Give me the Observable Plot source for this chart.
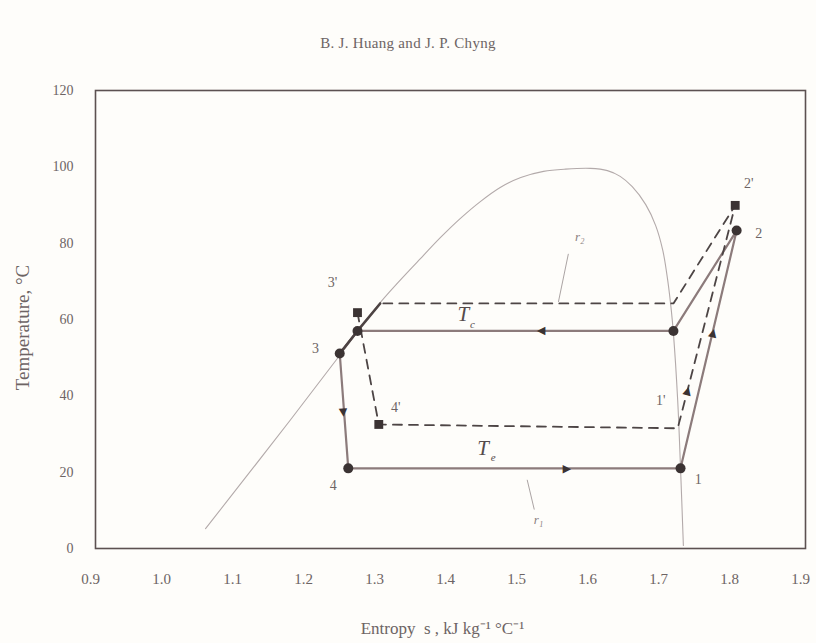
<!DOCTYPE html>
<html>
<head>
<meta charset="utf-8">
<script src="https://cdn.jsdelivr.net/npm/d3@7"></script>
<script src="https://cdn.jsdelivr.net/npm/@observablehq/plot@0.6"></script>
<style>
  html, body { margin: 0; padding: 0; background: #fefdfa; }
  #wrap { position: relative; width: 816px; height: 643px; }
  #title {
    position: absolute; top: 35px; left: 0; width: 816px; text-align: center;
    font-family: "Liberation Serif", serif; font-size: 15px; color: #6d6464;
    letter-spacing: 0.3px;
  }
  svg { display: block; }
</style>
</head>
<body>
<div id="wrap">
  <div id="title">B. J. Huang and J. P. Chyng</div>
</div>
<script>
// Axis ticks
const xTicks = [0.9, 1.0, 1.1, 1.2, 1.3, 1.4, 1.5, 1.6, 1.7, 1.8, 1.9];
const yTicks = [0, 20, 40, 60, 80, 100, 120];

// Saturation dome (entropy kJ/kg°C, temperature °C)
const domeS = [1.055, 1.175, 1.246, 1.301, 1.358, 1.386, 1.414, 1.442, 1.470, 1.499, 1.531, 1.562, 1.597, 1.621, 1.639, 1.656, 1.675, 1.689, 1.699, 1.706, 1.711, 1.714, 1.720, 1.724, 1.728];
const domeT = [5.2, 33.8, 51.1, 64.4, 76.0, 81.5, 86.5, 90.9, 94.6, 97.2, 98.8, 99.4, 99.6, 99.0, 97.5, 94.8, 90.1, 84.6, 78.1, 70.2, 62.4, 56.3, 38.8, 21.0, 0.8];

// Design cycle (solid): 1 -> 2 -> saturated vapour -> saturated liquid -> 3 -> 4 -> 1
const cycleS = [1.724, 1.803, 1.714, 1.269, 1.244, 1.256, 1.724];
const cycleT = [21.0, 83.3, 57.0, 57.0, 51.1, 21.0, 21.0];

// Off-design cycle (dashed): 3' -> 4' -> 1' -> 2' -> condensing line
const offS = [1.269, 1.299, 1.720, 1.801, 1.714, 1.301];
const offT = [61.8, 32.5, 31.5, 89.9, 64.2, 64.2];

// Liquid-side segment along the dome
const liquidS = [1.301, 1.269, 1.244];
const liquidT = [64.2, 57.0, 51.1];

// State points
const circleS = [1.724, 1.803, 1.714, 1.269, 1.244, 1.256];
const circleT = [21.0, 83.3, 57.0, 57.0, 51.1, 21.0];
const squareS = [1.801, 1.269, 1.299];
const squareT = [89.9, 61.8, 32.5];

// State labels
const labelText = ["1", "2", "2'", "3", "3'", "4", "4'", "1'"];
const labelS = [1.749, 1.834, 1.820, 1.210, 1.234, 1.235, 1.323, 1.696];
const labelT = [18.0, 82.5, 95.6, 52.4, 69.7, 16.5, 36.9, 38.8];

// Flow-direction arrowheads: position and the segment they lie on
const arrowS = [1.770, 1.734, 1.249, 1.565, 1.527];
const arrowT = [56.6, 41.4, 35.4, 20.8, 57.0];
const arrowFrom = [[1.724, 21.0], [1.720, 31.5], [1.244, 51.1], [1.256, 21.0], [1.714, 57.0]];
const arrowTo = [[1.803, 83.3], [1.801, 89.9], [1.256, 21.0], [1.724, 21.0], [1.269, 57.0]];

// Temperature annotations
const tempSymbolS = [1.418, 1.446];
const tempSymbolT = [61.4, 26.3];
const tempSubText = ["c", "e"];
const tempSubS = [1.431, 1.460];
const tempSubT = [58.6, 23.8];

// Leader-line labels r1, r2
const leaderText = ["r\u2082", "r\u2081"];
const leaderS = [1.582, 1.524];
const leaderT = [81.6, 7.4];
const leaderFrom = [[1.566, 77.2], [1.508, 18.0]];
const leaderTo = [[1.552, 64.6], [1.518, 10.2]];

const W = 816, H = 643;
const M = {top: 90, right: 11, bottom: 95, left: 95};
const xRange = [M.left, W - M.right];
const yRange = [H - M.bottom, M.top];
const sx = d3.scaleLinear([0.9, 1.9], xRange);
const sy = d3.scaleLinear([0, 120], yRange);

const idx = a => a.map((_, i) => i);
const dome = idx(domeS).map(i => ({s: domeS[i], t: domeT[i]}));
const cycle = idx(cycleS).map(i => ({s: cycleS[i], t: cycleT[i]}));
const off = idx(offS).map(i => ({s: offS[i], t: offT[i]}));
const liquid = idx(liquidS).map(i => ({s: liquidS[i], t: liquidT[i]}));
const circles = idx(circleS).map(i => ({s: circleS[i], t: circleT[i]}));
const squares = idx(squareS).map(i => ({s: squareS[i], t: squareT[i]}));
const labels = idx(labelS).map(i => ({s: labelS[i], t: labelT[i], text: labelText[i]}));
const arrows = idx(arrowS).map(i => {
  const [s0, t0] = arrowFrom[i], [s1, t1] = arrowTo[i];
  const dx = sx(s1) - sx(s0), dy = sy(t1) - sy(t0);
  // glyph points up; rotate clockwise to follow the flow direction
  const angle = Math.atan2(dx, -dy) * 180 / Math.PI;
  return {s: arrowS[i], t: arrowT[i], angle};
});
const temps = idx(tempSymbolS).map(i => ({s: tempSymbolS[i], t: tempSymbolT[i]}));
const subs = idx(tempSubS).map(i => ({s: tempSubS[i], t: tempSubT[i], text: tempSubText[i]}));
const leaders = idx(leaderS).map(i => ({
  s: leaderS[i], t: leaderT[i], text: leaderText[i],
  s1: leaderFrom[i][0], t1: leaderFrom[i][1], s2: leaderTo[i][0], t2: leaderTo[i][1]
}));

const ink = "#3b3333";
const chart = Plot.plot({
  width: W,
  height: H,
  marginTop: M.top,
  marginRight: M.right,
  marginBottom: M.bottom,
  marginLeft: M.left,
  style: {fontFamily: "Liberation Serif, serif", color: "#6d6464", background: "transparent"},
  x: {domain: [0.9, 1.9], range: xRange},
  y: {domain: [0, 120], range: yRange},
  marks: [
    Plot.axisX({ticks: xTicks, tickFormat: d => d.toFixed(1), tickSize: 0, tickPadding: 25, dx: -5, fontSize: 15, label: null}),
    Plot.axisY({ticks: yTicks, tickFormat: d => String(d), tickSize: 0, tickPadding: 22, fontSize: 14, label: null}),
    Plot.frame({stroke: "#5c5151", strokeWidth: 1.6}),
    Plot.line(dome, {x: "s", y: "t", curve: "catmull-rom", stroke: "#b3aaaa", strokeWidth: 1.1}),
    Plot.line(cycle, {x: "s", y: "t", stroke: "#8c7b7b", strokeWidth: 2.2}),
    Plot.line(off, {x: "s", y: "t", stroke: "#4d4545", strokeWidth: 1.8, strokeDasharray: "9 7"}),
    Plot.line(liquid, {x: "s", y: "t", stroke: "#4d4343", strokeWidth: 2.6}),
    Plot.link(leaders, {x1: "s1", y1: "t1", x2: "s2", y2: "t2", stroke: "#a09898", strokeWidth: 0.9}),
    Plot.dot(circles, {x: "s", y: "t", r: 5, fill: ink, stroke: "none"}),
    Plot.dot(squares, {x: "s", y: "t", r: 5, symbol: "square", fill: ink, stroke: "none"}),
    Plot.text(arrows, {x: "s", y: "t", text: () => "\u25B2", rotate: "angle", fill: ink, fontSize: 11, fontFamily: "DejaVu Sans"}),
    Plot.text(labels, {x: "s", y: "t", text: "text", fontSize: 14, fill: "#6d6464"}),
    Plot.text(temps, {x: "s", y: "t", text: () => "T", fontSize: 21, fontStyle: "italic", fill: "#554b4b"}),
    Plot.text(subs, {x: "s", y: "t", text: "text", fontSize: 11, fontStyle: "italic", fill: "#554b4b"}),
    Plot.text(leaders, {x: "s", y: "t", text: "text", fontSize: 13, fontStyle: "italic", fill: "#8a8080"}),
    Plot.text(["Temperature, \u00B0C"], {frameAnchor: "left", dx: -73, dy: 8, rotate: -90, textAnchor: "middle", fontSize: 19, fill: "#6d6464"}),
    Plot.text(["Entropy  s , kJ kg\u207B\u00B9 \u00B0C\u207B\u00B9"], {frameAnchor: "bottom", dx: -8, dy: 85, textAnchor: "middle", fontSize: 17, fill: "#6d6464"})
  ]
});
document.getElementById("wrap").appendChild(chart);
</script>
</body>
</html>
